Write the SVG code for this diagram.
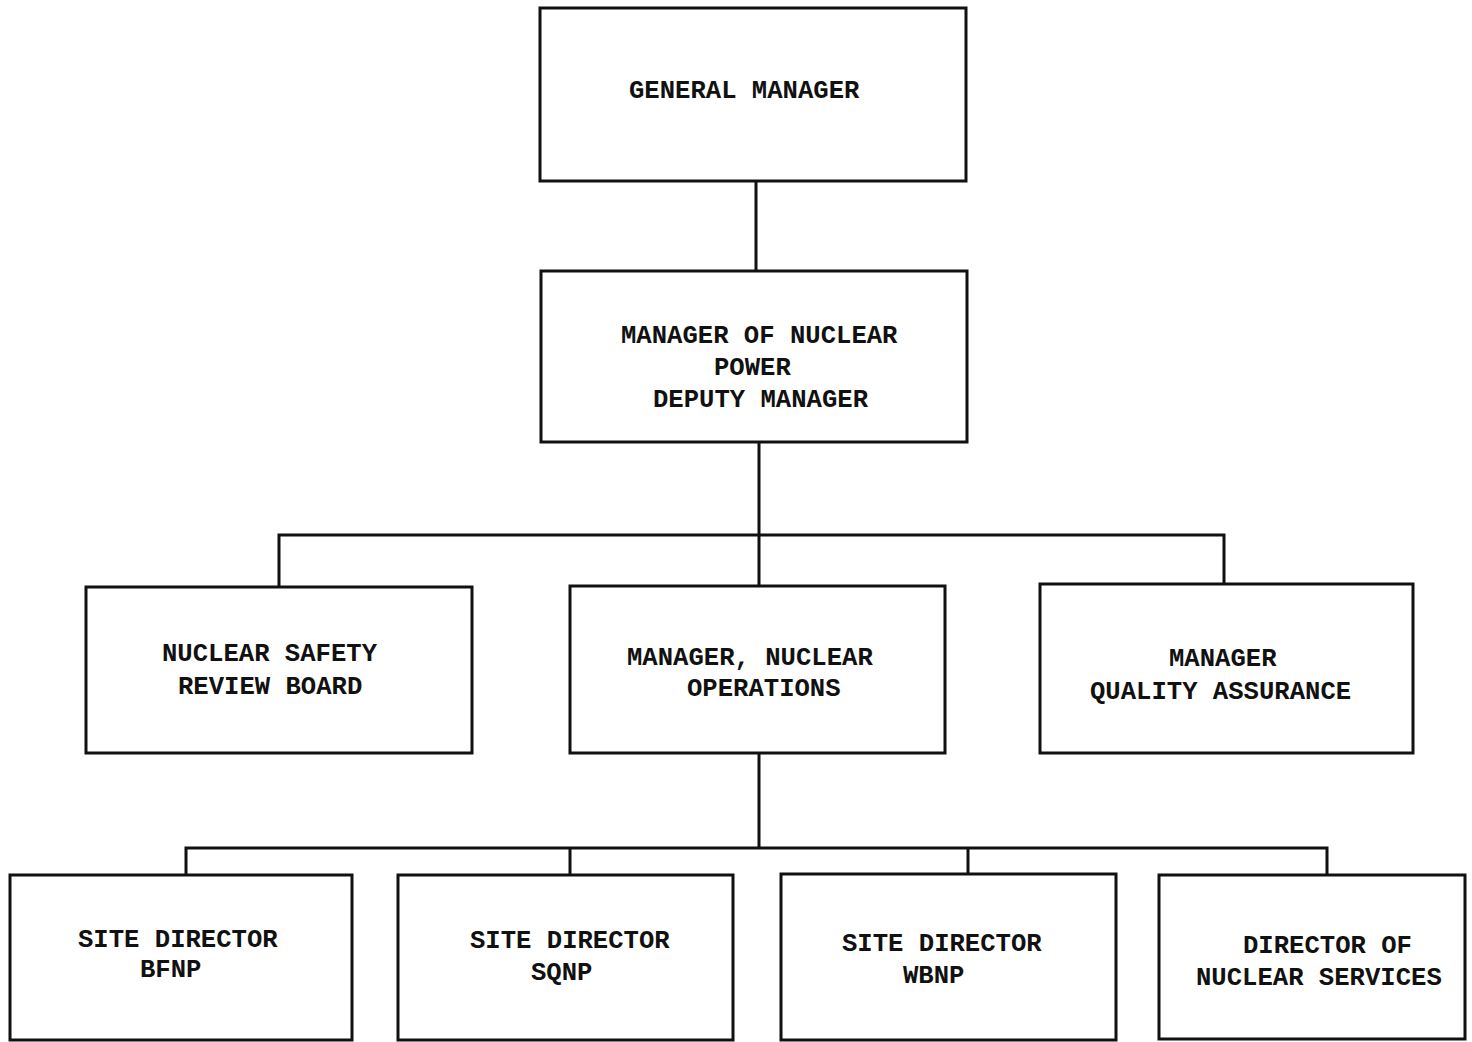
<svg xmlns="http://www.w3.org/2000/svg" width="1472" height="1042" viewBox="0 0 1472 1042">
<style>
.box{fill:#fff;stroke:#111;stroke-width:3}
.ln{fill:none;stroke:#111;stroke-width:3}
text{font-family:"Liberation Mono","Courier New",monospace;font-size:25.6px;font-weight:bold;fill:#111}
</style>
<rect width="1472" height="1042" fill="#fff"/>
<g id="connectors">
<path class="ln" d="M756 181 V271"/>
<path class="ln" d="M759 443 V586"/>
<path class="ln" d="M279 587 V535 H1224 V584"/>
<path class="ln" d="M759 753 V848"/>
<path class="ln" d="M186 875 V848 H1327 V875"/>
<path class="ln" d="M570 848 V875"/>
<path class="ln" d="M968 848 V874"/>
</g>
<g id="general-manager">
<rect class="box" x="540" y="8" width="426" height="173"/>
<text x="629" y="98">GENERAL MANAGER</text>
</g>
<g id="manager-nuclear-power">
<rect class="box" x="541" y="271" width="426" height="171"/>
<text x="621" y="343">MANAGER OF NUCLEAR</text>
<text x="714" y="375">POWER</text>
<text x="653" y="407">DEPUTY MANAGER</text>
</g>
<g id="nsrb">
<rect class="box" x="86" y="587" width="386" height="166"/>
<text x="162" y="661">NUCLEAR SAFETY</text>
<text x="178" y="694">REVIEW BOARD</text>
</g>
<g id="manager-nuclear-operations">
<rect class="box" x="570" y="586" width="375" height="167"/>
<text x="627" y="665">MANAGER, NUCLEAR</text>
<text x="687" y="696">OPERATIONS</text>
</g>
<g id="manager-qa">
<rect class="box" x="1040" y="584" width="373" height="169"/>
<text x="1169" y="666">MANAGER</text>
<text x="1090" y="699">QUALITY ASSURANCE</text>
</g>
<g id="site-director-bfnp">
<rect class="box" x="10" y="875" width="342" height="165"/>
<text x="78" y="947">SITE DIRECTOR</text>
<text x="140" y="977">BFNP</text>
</g>
<g id="site-director-sqnp">
<rect class="box" x="398" y="875" width="335" height="165"/>
<text x="470" y="948">SITE DIRECTOR</text>
<text x="531" y="980">SQNP</text>
</g>
<g id="site-director-wbnp">
<rect class="box" x="781" y="874" width="335" height="166"/>
<text x="842" y="951">SITE DIRECTOR</text>
<text x="903" y="983">WBNP</text>
</g>
<g id="director-nuclear-services">
<rect class="box" x="1159" y="875" width="306" height="164"/>
<text x="1243" y="953">DIRECTOR OF</text>
<text x="1196" y="985">NUCLEAR SERVICES</text>
</g>
</svg>
